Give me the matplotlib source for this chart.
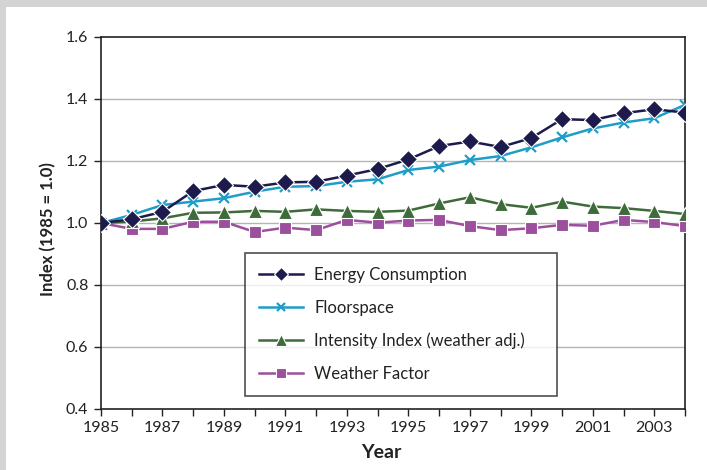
import matplotlib
matplotlib.use("Agg")
import matplotlib.pyplot as plt
from matplotlib.patches import Rectangle
from matplotlib.ticker import MultipleLocator, FormatStrFormatter

years = list(range(1985, 2005))
energy = [1.000, 1.012, 1.036, 1.103, 1.123, 1.117, 1.131, 1.133, 1.153, 1.174,
          1.205, 1.248, 1.263, 1.245, 1.274, 1.335, 1.332, 1.354, 1.367, 1.356]
floorspace = [1.000, 1.026, 1.058, 1.069, 1.080, 1.101, 1.117, 1.119, 1.133, 1.141,
              1.171, 1.182, 1.203, 1.216, 1.244, 1.276, 1.305, 1.324, 1.338, 1.381]
intensity = [1.000, 1.005, 1.015, 1.033, 1.034, 1.039, 1.036, 1.044, 1.039, 1.036,
             1.040, 1.063, 1.083, 1.061, 1.049, 1.069, 1.053, 1.048, 1.039, 1.029]
weather = [1.000, 0.981, 0.981, 1.004, 1.004, 0.971, 0.985, 0.977, 1.010, 1.001,
           1.008, 1.010, 0.990, 0.977, 0.983, 0.994, 0.991, 1.010, 1.003, 0.990]

labels = ["Energy Consumption", "Floorspace", "Intensity Index (weather adj.)", "Weather Factor"]

FONT = "Lato"
plt.rcParams['font.family'] = [FONT, 'DejaVu Sans']

fig = plt.figure(figsize=(7.07, 4.70), dpi=100)
fig.patch.set_facecolor("white")
fig.patches.append(Rectangle((0, 1 - 7 / 470), 1, 7 / 470, transform=fig.transFigure,
                             facecolor="#d4d4d4", edgecolor="none", zorder=0))
fig.patches.append(Rectangle((0, 0), 6 / 707, 1, transform=fig.transFigure,
                             facecolor="#d4d4d4", edgecolor="none", zorder=0))

ax = fig.add_axes([101 / 707, 1 - 409 / 470, 584 / 707, 372 / 470])

c_energy = "#1d1b4d"
c_floor = "#1f9dc8"
c_int = "#3e6b3a"
c_weather = "#9c4f9c"

hw, = ax.plot(years, weather, color=c_weather, lw=1.8, marker="s", ms=9,
              mec="white", mew=0.8, zorder=3)
hi, = ax.plot(years, intensity, color=c_int, lw=1.8, marker="^", ms=10,
              mec="white", mew=0.8, zorder=4)
hf, = ax.plot(years, floorspace, color=c_floor, lw=1.8, marker="x", ms=7,
              mew=1.6, zorder=5)
he, = ax.plot(years, energy, color=c_energy, lw=1.8, marker="D", ms=9.5,
              mec="white", mew=0.8, zorder=6)

ax.set_xlim(1985, 2004)
ax.set_ylim(0.4, 1.6)
ax.set_xticks(years)
ax.set_xticklabels([str(y) if (y - 1985) % 2 == 0 else "" for y in years])
ax.yaxis.set_major_locator(MultipleLocator(0.2))
ax.yaxis.set_major_formatter(FormatStrFormatter("%.1f"))

for yv in [0.6, 0.8, 1.0, 1.2, 1.4]:
    ax.axhline(yv, color="#b4b4b4", lw=1.0, zorder=1)

for s in ax.spines.values():
    s.set_color("#222222")
    s.set_linewidth(1.2)

ax.tick_params(axis="both", direction="out", length=5, width=1.0, color="#222222",
               labelsize=11.5, labelcolor="#222222", pad=4)

ax.set_xlabel("Year", fontsize=14, fontweight="bold", color="#222222")
ax.xaxis.set_label_coords((381 - 101) / 584, (409 - 452) / 372)
ax.xaxis.label.set_va("center")
ax.set_ylabel("Index (1985 = 1.0)", fontsize=12, fontweight="bold", color="#222222")
ax.yaxis.set_label_coords((48 - 101) / 584, (409 - 229) / 372)
ax.yaxis.label.set_va("center")

leg = ax.legend([he, hf, hi, hw], labels, loc="upper left",
                bbox_to_anchor=(0.2466, 0.0403, 0.5342, 0.3791), mode="expand",
                fontsize=12, frameon=True, fancybox=False, handlelength=2.6,
                labelspacing=1.0, borderpad=0.85, handletextpad=0.7, borderaxespad=0,
                markerscale=0.8)
leg.get_frame().set_edgecolor("#222222")
leg.get_frame().set_linewidth(1.2)
for t in leg.get_texts():
    t.set_color("#222222")
leg.set_zorder(10)

fig.savefig("out.png", dpi=100)
